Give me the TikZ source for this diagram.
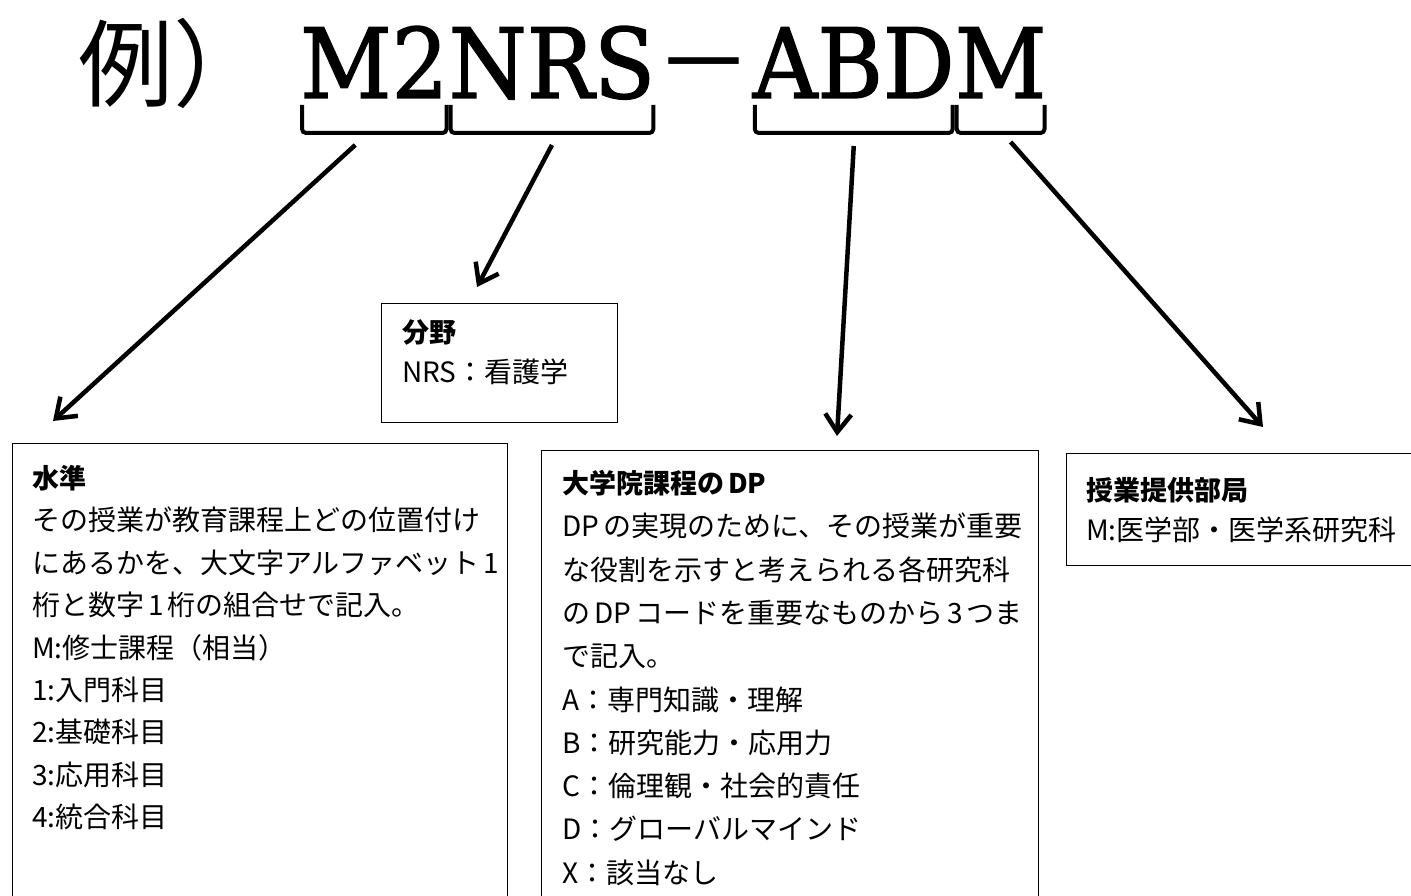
\documentclass[tikz,border=0pt]{standalone}
\usepackage{fontspec}
\usetikzlibrary{positioning,arrows.meta}
\newfontfamily\jpfont{Noto Sans CJK JP}
\newfontfamily\codefont{DejaVu Serif}[FakeStretch=0.92,FakeBold=1.5]
\newcommand\ksp{\hspace{4pt}}

\begin{document}
\begin{tikzpicture}[x=1pt,y=-1pt,
    infobox/.style={draw, line width=1.2pt, anchor=north west, inner sep=0pt},
    boxtext/.style={font=\jpfont\fontsize{28pt}{#1}\selectfont, text width=640pt,
      align=left, inner sep=0pt, anchor=base west},
    codetext/.style={font=\codefont\fontsize{97pt}{97pt}\selectfont, inner sep=0pt},
    brk/.style={line width=4pt, rounded corners=4pt},
    arr/.style={line width=4.5pt, -{Straight Barb[length=18pt,width=26pt]}}]
  \useasboundingbox (0,0) rectangle (1411,896);
  \clip (0,0) rectangle (1411,896);

  \node[font=\jpfont\fontsize{95pt}{95pt}\selectfont, inner sep=0pt, anchor=base west] (exlabel) at (78,100) {例）};
  \node[codetext, anchor=base west] (lvlcode) at (300,98) {M2};
  \node[codetext, base right=0pt of lvlcode] (fieldcode) {NRS};
  \node[codetext, base right=0pt of fieldcode, font=\jpfont\fontsize{97pt}{97pt}\selectfont] (sepcode) {－};
  \node[codetext, base right=0pt of sepcode] (dpcode) {ABD};
  \node[codetext, base right=0pt of dpcode] (deptcode) {M};

  \foreach \c in {lvlcode,fieldcode,dpcode,deptcode}
    \draw[brk] ([xshift=2pt,yshift=-7pt]\c.base west) |- ([yshift=-35pt]\c.base)
      -| ([xshift=-2pt,yshift=-7pt]\c.base east);

  \node[infobox, minimum width=495pt, minimum height=480pt] (lvlbox) at (12,443) {};
  \node[infobox, minimum width=236pt, minimum height=119pt] (fieldbox) at (381,303) {};
  \node[infobox, minimum width=497pt, minimum height=480pt] (dpbox) at (541,450) {};
  \node[infobox, minimum width=360pt, minimum height=112pt] (deptbox) at (1066,453) {};

  \node[boxtext=42.4pt] (lvltext) at ([xshift=20pt,yshift=-45.5pt]lvlbox.north west) {%
    {\fontsize{27pt}{42pt}\selectfont\bfseries 水準}\\
    その授業が教育課程上どの位置付け\\
    にあるかを、大文字アルファベット\ksp 1\\
    桁と数字\ksp 1\ksp 桁の組合せで記入。\\
    M:修士課程（相当）\\
    1:入門科目\\
    2:基礎科目\\
    3:応用科目\\
    4:統合科目};
  \node[boxtext=40pt] (fieldtext) at ([xshift=21pt,yshift=-39.5pt]fieldbox.north west) {%
    {\fontsize{27pt}{40pt}\selectfont\bfseries 分野}\\
    NRS：看護学};
  \node[boxtext=43.3pt] (dptext) at ([xshift=21pt,yshift=-43.5pt]dpbox.north west) {%
    {\fontsize{27pt}{42pt}\selectfont\bfseries 大学院課程の\ksp DP}\\
    DP\ksp の実現のために、その授業が重要\\
    な役割を示すと考えられる各研究科\\
    の\ksp DP\ksp コードを重要なものから\ksp 3\ksp つま\\
    で記入。\\
    A：専門知識・理解\\
    B：研究能力・応用力\\
    C：倫理観・社会的責任\\
    D：グローバルマインド\\
    X：該当なし};
  \node[boxtext=40pt] (depttext) at ([xshift=20pt,yshift=-47.5pt]deptbox.north west) {%
    {\fontsize{27pt}{40pt}\selectfont\bfseries 授業提供部局}\\
    M:医学部・医学系研究科};

  \coordinate (lvlpt) at ([xshift=-19pt,yshift=-47pt]lvlcode.base);
  \coordinate (fieldpt) at ([yshift=-47pt]fieldcode.base);
  \coordinate (dppt) at ([yshift=-48pt]dpcode.base);
  \coordinate (deptpt) at ([xshift=10pt,yshift=-44pt]deptcode.base);

  \draw[arr] (lvlpt) -- ([xshift=41pt,yshift=22pt]lvlbox.north west);
  \draw[arr] (fieldpt) -- ([xshift=96pt,yshift=16pt]fieldbox.north west);
  \draw[arr] (dppt) -- ([xshift=296pt,yshift=14pt]dpbox.north west);
  \draw[arr] (deptpt) -- ([xshift=197pt,yshift=26pt]deptbox.north west);
\end{tikzpicture}
\end{document}
